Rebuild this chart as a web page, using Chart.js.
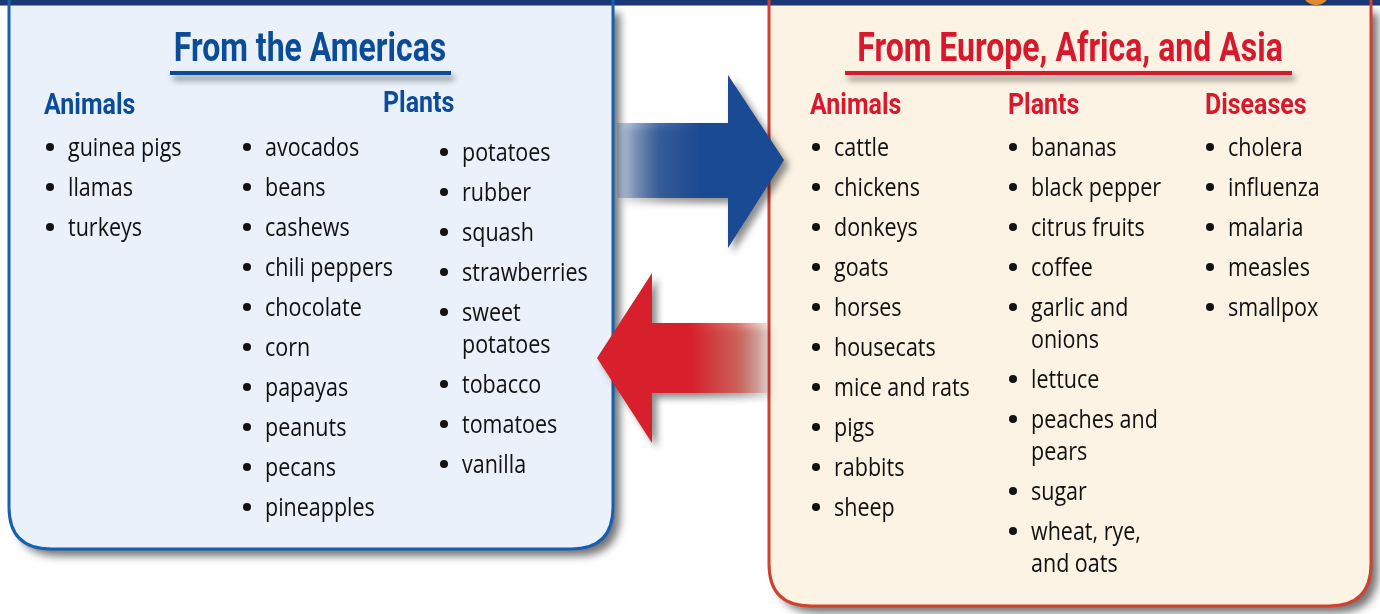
<!DOCTYPE html>
<html>
<head>
<meta charset="utf-8">
<script src="https://cdn.jsdelivr.net/npm/chart.js@4"></script>
<style>
  html, body { margin:0; padding:0; background:#ffffff; }
  #wrap { width:1380px; height:614px; }
</style>
</head>
<body>
<div id="wrap"><canvas id="exchangeChart" width="1380" height="614"></canvas></div>
<script>
// ---- content ----
const titleAmericas = "From the Americas";
const titleOldWorld = "From Europe, Africa, and Asia";
const headAmericas = ["Animals", "Plants"];
const headOldWorld = ["Animals", "Plants", "Diseases"];

const americasAnimals = ["guinea pigs", "llamas", "turkeys"];
const americasPlantsA = ["avocados", "beans", "cashews", "chili peppers", "chocolate",
                         "corn", "papayas", "peanuts", "pecans", "pineapples"];
const americasPlantsB = ["potatoes", "rubber", "squash", "strawberries", "sweet\npotatoes",
                         "tobacco", "tomatoes", "vanilla"];
const oldAnimals  = ["cattle", "chickens", "donkeys", "goats", "horses", "housecats",
                     "mice and rats", "pigs", "rabbits", "sheep"];
const oldPlants   = ["bananas", "black pepper", "citrus fruits", "coffee", "garlic and\nonions",
                     "lettuce", "peaches and\npears", "sugar", "wheat, rye,\nand oats"];
const oldDiseases = ["cholera", "influenza", "malaria", "measles", "smallpox"];

// ---- layout (px in the 1380 x 614 value space) ----
const ROW = 40, WRAP = 32;
const columns = [
  { items: americasAnimals, x: 50,   top: 147 },
  { items: americasPlantsA, x: 247,  top: 147 },
  { items: americasPlantsB, x: 444,  top: 152 },
  { items: oldAnimals,      x: 816,  top: 147 },
  { items: oldPlants,       x: 1013, top: 147 },
  { items: oldDiseases,     x: 1210, top: 147 }
];

const BLUE = "#0b4c98", RED = "#d7192d";

function bulletRows(col) {
  let y = col.top;
  return col.items.map(txt => {
    const p = { x: col.x, y: y, text: txt };
    y += ROW + WRAP * (txt.split("\n").length - 1);
    return p;
  });
}

function drawText(ctx, txt, x, y, font, color, sx, align) {
  ctx.save();
  ctx.font = font;
  ctx.fillStyle = color;
  ctx.textBaseline = "middle";
  ctx.translate(x, y);
  ctx.scale(sx, 1);
  let w = ctx.measureText(txt).width;
  let ox = align === "center" ? -w / 2 : 0;
  ctx.fillText(txt, ox, 0);
  ctx.restore();
}

function roundBottomRect(ctx, x0, y0, x1, y1, r) {
  ctx.beginPath();
  ctx.moveTo(x0, y0);
  ctx.lineTo(x1, y0);
  ctx.lineTo(x1, y1 - r);
  ctx.quadraticCurveTo(x1, y1, x1 - r, y1);
  ctx.lineTo(x0 + r, y1);
  ctx.quadraticCurveTo(x0, y1, x0, y1 - r);
  ctx.closePath();
}

const backdrop = {
  id: "backdrop",
  beforeDatasetsDraw(chart) {
    const ctx = chart.ctx, sx = chart.scales.x, sy = chart.scales.y;
    const X = v => sx.getPixelForValue(v), Y = v => sy.getPixelForValue(v);
    ctx.save();
    ctx.fillStyle = "#ffffff";
    ctx.fillRect(0, 0, chart.width, chart.height);

    // top band
    ctx.fillStyle = "#1d3877";
    ctx.fillRect(0, 0, chart.width, Y(5));
    ctx.fillStyle = "#7f97c4";
    ctx.fillRect(0, Y(5), chart.width, 1);
    ctx.fillStyle = "#e58a2b";
    ctx.beginPath(); ctx.arc(X(1316), Y(-9), 14, 0, Math.PI * 2); ctx.fill();

    // boxes
    const boxes = [
      { x0: 9, x1: 613, y1: 549, fill: "#eaf1fa", stroke: "#1560b0" },
      { x0: 769, x1: 1371, y1: 606, fill: "#fdf3e4", stroke: "#cf4130" }
    ];
    boxes.forEach(b => {
      ctx.save();
      ctx.shadowColor = "rgba(0,0,0,0.55)";
      ctx.shadowBlur = 8; ctx.shadowOffsetX = 7; ctx.shadowOffsetY = 7;
      roundBottomRect(ctx, X(b.x0), Y(6), X(b.x1), Y(b.y1), 42);
      ctx.fillStyle = b.fill; ctx.fill();
      ctx.restore();
      roundBottomRect(ctx, X(b.x0), Y(-10), X(b.x1), Y(b.y1), 42);
      ctx.lineWidth = 3; ctx.strokeStyle = b.stroke; ctx.stroke();
    });

    // arrows
    ctx.save();
    ctx.shadowColor = "rgba(0,0,0,0.45)";
    ctx.shadowBlur = 7; ctx.shadowOffsetX = 5; ctx.shadowOffsetY = 5;
    let g = ctx.createLinearGradient(X(617), 0, X(700), 0);
    g.addColorStop(0, "rgba(27,74,148,0.2)");
    g.addColorStop(0.5, "rgba(27,74,148,0.8)");
    g.addColorStop(1, "#1b4a94");
    ctx.fillStyle = g;
    ctx.beginPath();
    ctx.moveTo(X(617), Y(123)); ctx.lineTo(X(728), Y(123)); ctx.lineTo(X(728), Y(75));
    ctx.lineTo(X(784), Y(160)); ctx.lineTo(X(728), Y(248)); ctx.lineTo(X(728), Y(198));
    ctx.lineTo(X(617), Y(198)); ctx.closePath(); ctx.fill();

    g = ctx.createLinearGradient(X(690), 0, X(767), 0);
    g.addColorStop(0, "#d81f2c");
    g.addColorStop(0.6, "rgba(216,70,60,0.75)");
    g.addColorStop(1, "rgba(216,90,70,0.2)");
    ctx.fillStyle = g;
    ctx.beginPath();
    ctx.moveTo(X(767), Y(323)); ctx.lineTo(X(652), Y(323)); ctx.lineTo(X(652), Y(273));
    ctx.lineTo(X(597), Y(358)); ctx.lineTo(X(652), Y(443)); ctx.lineTo(X(652), Y(393));
    ctx.lineTo(X(767), Y(393)); ctx.closePath(); ctx.fill();
    ctx.restore();

    // titles + underlines
    [[titleAmericas, 310, 170, 451, BLUE], [titleOldWorld, 1070, 845, 1292, RED]].forEach(t => {
      ctx.save();
      ctx.shadowColor = "rgba(0,0,0,0.5)";
      ctx.shadowBlur = 6; ctx.shadowOffsetX = 3; ctx.shadowOffsetY = 5;
      ctx.fillStyle = t[4];
      ctx.fillRect(X(t[2]), Y(71), X(t[3]) - X(t[2]), 4);
      ctx.restore();
      drawText(ctx, t[0], X(t[1]), Y(51), 'bold 40px "Roboto"', t[4], 0.8, "center");
    });

    // column headings
    const hf = 'bold 29px "Roboto"';
    drawText(ctx, headAmericas[0], X(44), Y(107), hf, BLUE, 0.86);
    drawText(ctx, headAmericas[1], X(383), Y(105), hf, BLUE, 0.86);
    [810, 1008, 1205].forEach((x, i) => drawText(ctx, headOldWorld[i], X(x), Y(107), hf, RED, 0.86));
    ctx.restore();
  },
  afterDatasetsDraw(chart) {
    const ctx = chart.ctx, sx = chart.scales.x, sy = chart.scales.y;
    columns.forEach(col => {
      bulletRows(col).forEach(p => {
        p.text.split("\n").forEach((line, k) => {
          drawText(ctx, line, sx.getPixelForValue(p.x + 18), sy.getPixelForValue(p.y + 2 + k * WRAP),
                   '25px "Open Sans"', "#111111", 0.86);
        });
      });
    });
  }
};

const ctx = document.getElementById("exchangeChart");

new Chart(ctx, {
  type: "scatter",
  data: {
    datasets: columns.map(col => ({
      data: bulletRows(col).map(p => ({ x: p.x, y: p.y })),
      pointRadius: 4,
      pointHoverRadius: 4,
      backgroundColor: "#111111",
      borderWidth: 0
    }))
  },
  options: {
    responsive: false,
    animation: false,
    devicePixelRatio: 1,
    layout: { padding: 0, autoPadding: false },
    clip: false,
    plugins: { legend: { display: false }, tooltip: { enabled: false } },
    scales: {
      x: { type: "linear", min: 0, max: 1380, display: false },
      y: { type: "linear", min: 0, max: 614, reverse: true, display: false }
    }
  },
  plugins: [backdrop]
});
</script>
</body>
</html>
